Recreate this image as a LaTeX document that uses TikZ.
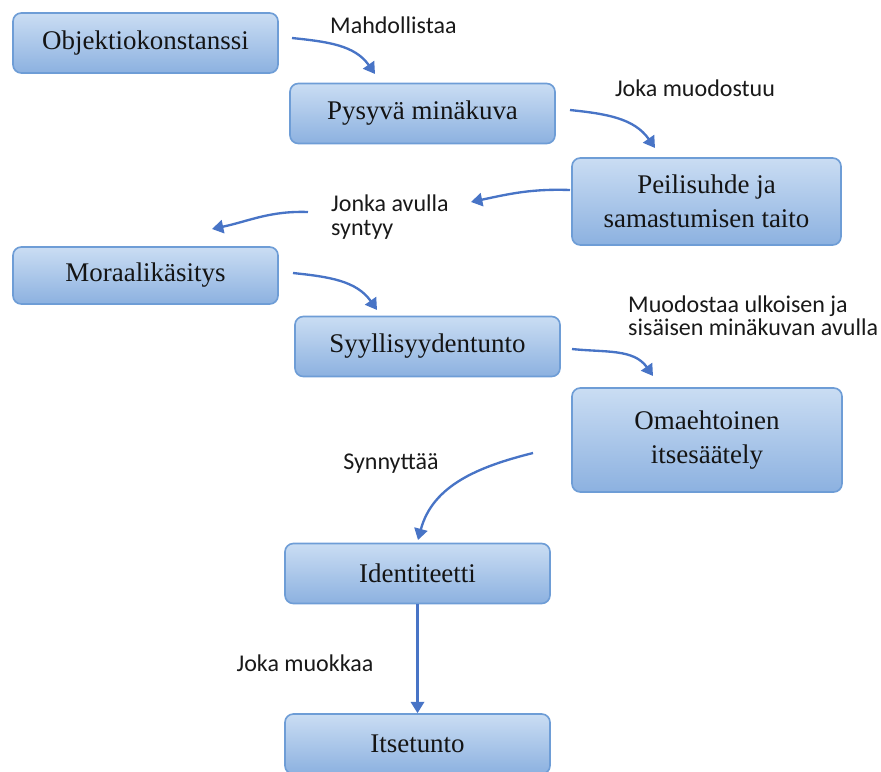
\documentclass[tikz,border=0pt]{standalone}
\usepackage{fontspec}
\setmainfont{Liberation Serif}
\newfontfamily\lblfont{Carlito}
\usetikzlibrary{arrows.meta}
\definecolor{boxtop}{HTML}{CADDF3}
\definecolor{boxbot}{HTML}{8CB1E0}
\definecolor{boxline}{HTML}{6E9DD6}
\definecolor{arrowblue}{HTML}{4874C6}

\begin{document}
\begin{tikzpicture}[x=0.03cm,y=0.03cm,
  box/.style={draw=boxline,line width=1.4pt,rounded corners=0.25cm,top color=boxtop,bottom color=boxbot,
    minimum width=7.95cm,minimum height=1.8cm,align=center,text=black!92,font=\fontsize{23}{29}\selectfont},
  lbl/.style={font=\lblfont\fontsize{20.5}{20}\selectfont,align=left,text=black!90,inner sep=0pt},
  flow/.style={draw=arrowblue,line width=2pt,-{Triangle[length=0.34cm,width=0.4cm]}}]
  \useasboundingbox (0,0) rectangle (881,-771);
  % Boxes
  \node[box] (obj) at (145.5,-43) {Objektiokonstanssi};
  \node[box] (pysyva) at (422.5,-113.5) {Pysyvä minäkuva};
  \node[box,minimum width=8.07cm,minimum height=2.61cm] (peili) at (706.5,-201.5) {Peilisuhde ja\\samastumisen taito};
  \node[box,minimum height=1.71cm] (moraali) at (145.5,-275.5) {Moraalikäsitys};
  \node[box] (syyllisyys) at (427.5,-346.5) {Syyllisyydentunto};
  \node[box,minimum width=8.1cm,minimum height=3.12cm] (omaehto) at (707,-440) {Omaehtoinen\\itsesäätely};
  \node[box] (ident) at (417.5,-573.5) {Identiteetti};
  \node[box] (itsetunto) at (417.5,-744) {Itsetunto};
  % Labels
  \node[lbl,anchor=west] (mahdollistaa) at (330,-25) {Mahdollistaa};
  \node[lbl] (muodostuu) at (695,-88) {Joka muodostuu};
  \node[lbl,anchor=west] (avulla) at (331,-217) {Jonka avulla\\syntyy};
  \node[lbl,anchor=west] (ulkoisen) at (628,-316) {Muodostaa ulkoisen ja\\sisäisen minäkuvan avulla};
  \node[lbl] (synnyttaa) at (391,-463) {Synnyttää};
  \node[lbl] (muokkaa) at (305,-663) {Joka muokkaa};
  % Arrow ends
  \coordinate (s1) at (292,-38);  \coordinate (e1) at (375,-74);
  \coordinate (s2) at (570,-110); \coordinate (e2) at (655,-148);
  \coordinate (s3) at (570,-190); \coordinate (e3) at (471,-202);
  \coordinate (s4) at (308,-212); \coordinate (e4) at (212,-229);
  \coordinate (s5) at (293,-273); \coordinate (e5) at (377,-310);
  \coordinate (s6) at (572,-349); \coordinate (e6) at (653,-376);
  \coordinate (s7) at (533,-453); \coordinate (e7) at (418,-540);
  % Arrows
  \foreach \s/\e/\o/\i in {s1/e1/-6/125,s2/e2/-6/125,s3/e3/178/12,s4/e4/178/12,
                           s5/e5/-6/125,s6/e6/-6/125,s7/e7/194/75} {
    \draw[flow] (\s) to[out=\o,in=\i] (\e);
  }
  \draw[flow] (ident.south) -- (ident.south |- itsetunto.north);
\end{tikzpicture}
\end{document}
